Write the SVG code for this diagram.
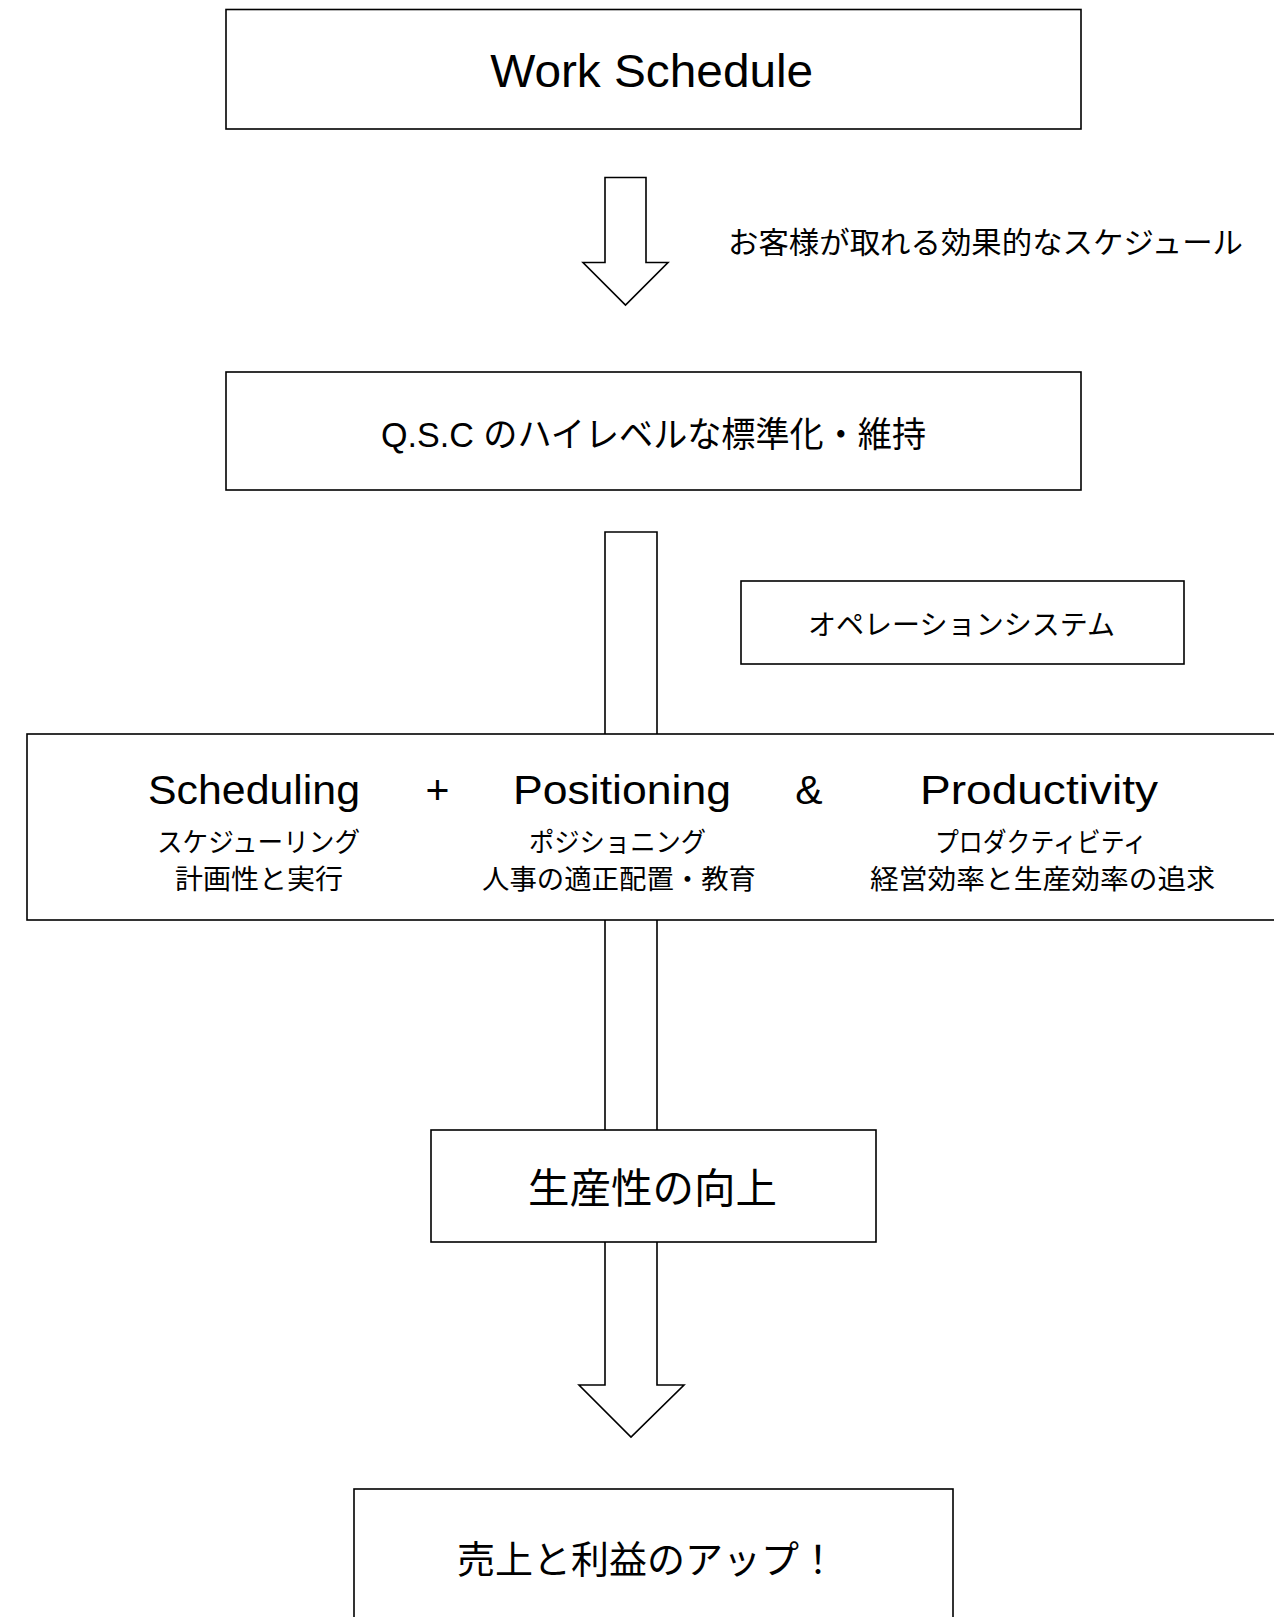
<svg xmlns="http://www.w3.org/2000/svg" width="1274" height="1617" viewBox="0 0 1274 1617">
<style>
.box{fill:#fff;stroke:#000;stroke-width:1.6}
.arrow{fill:#fff;stroke:#000;stroke-width:1.6;stroke-linejoin:miter}
.lat{font-family:"Liberation Sans","Noto Sans CJK JP",Arial,sans-serif;fill:#000}
.jp{font-family:"Noto Sans CJK JP","Liberation Sans",sans-serif;fill:#000}
</style>
<rect width="1274" height="1617" fill="#fff"/>
<g id="connectors">
  <polygon class="arrow" points="605,177.5 646,177.5 646,262.5 668,262.5 625.5,305 583,262.5 605,262.5"/>
  <polygon class="arrow" points="605,532 657,532 657,1385 684,1385 631,1437 579,1385 605,1385"/>
</g>
<g id="node-work-schedule">
  <rect class="box" x="226" y="9.5" width="855" height="119.5"/>
  <text class="lat" x="651.7" y="87" font-size="47" text-anchor="middle" textLength="323" lengthAdjust="spacingAndGlyphs">Work Schedule</text>
</g>
<g id="label-customer">
  <text class="jp" x="728" y="253" font-size="30" textLength="515" lengthAdjust="spacingAndGlyphs">お客様が取れる効果的なスケジュール</text>
</g>
<g id="node-qsc">
  <rect class="box" x="226" y="372" width="855" height="118"/>
  <text class="lat" x="381" y="447" font-size="35" textLength="545" lengthAdjust="spacingAndGlyphs">Q.S.C のハイレベルな標準化・維持</text>
</g>
<g id="node-operation">
  <rect class="box" x="741" y="581" width="443" height="83"/>
  <text class="jp" x="808" y="635" font-size="28" textLength="307" lengthAdjust="spacingAndGlyphs">オペレーションシステム</text>
</g>
<g id="node-spp">
  <rect class="box" x="27" y="734" width="1270" height="186"/>
  <text class="lat" x="148" y="804" font-size="41" textLength="212" lengthAdjust="spacingAndGlyphs">Scheduling</text>
  <text class="lat" x="437.5" y="804" font-size="41" text-anchor="middle">+</text>
  <text class="lat" x="513" y="804" font-size="41" textLength="218" lengthAdjust="spacingAndGlyphs">Positioning</text>
  <text class="lat" x="809" y="804" font-size="41" text-anchor="middle">&amp;</text>
  <text class="lat" x="920" y="804" font-size="41" textLength="238" lengthAdjust="spacingAndGlyphs">Productivity</text>
  <text class="jp" x="157" y="852" font-size="27" textLength="203" lengthAdjust="spacingAndGlyphs">スケジューリング</text>
  <text class="jp" x="529" y="852" font-size="27" textLength="177" lengthAdjust="spacingAndGlyphs">ポジショニング</text>
  <text class="jp" x="935" y="852" font-size="27" textLength="212" lengthAdjust="spacingAndGlyphs">プロダクティビティ</text>
  <text class="jp" x="175" y="889" font-size="27" textLength="168" lengthAdjust="spacingAndGlyphs">計画性と実行</text>
  <text class="jp" x="482" y="889" font-size="27" textLength="274" lengthAdjust="spacingAndGlyphs">人事の適正配置・教育</text>
  <text class="jp" x="870" y="889" font-size="27" textLength="345" lengthAdjust="spacingAndGlyphs">経営効率と生産効率の追求</text>
</g>
<g id="node-productivity">
  <rect class="box" x="431" y="1130" width="445" height="112"/>
  <text class="jp" x="528" y="1203" font-size="41" textLength="249" lengthAdjust="spacingAndGlyphs">生産性の向上</text>
</g>
<g id="node-sales">
  <rect class="box" x="354" y="1489" width="599" height="140"/>
  <text class="jp" x="457" y="1573" font-size="38" textLength="380" lengthAdjust="spacingAndGlyphs">売上と利益のアップ！</text>
</g>
</svg>
